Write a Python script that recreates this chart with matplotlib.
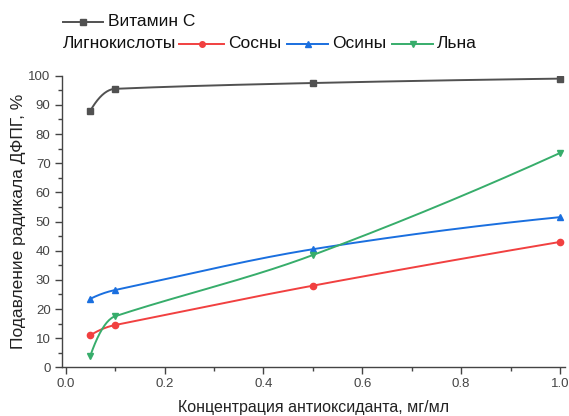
import matplotlib
import numpy as np

matplotlib.use("Agg")
import matplotlib.pyplot as plt  # noqa: E402
from matplotlib.lines import Line2D  # noqa: E402
from matplotlib.ticker import MultipleLocator  # noqa: E402

plt.rcParams["font.family"] = ["Liberation Sans", "DejaVu Sans"]

conc = [0.05, 0.1, 0.5, 1.0]
vit_c = [88.0, 95.5, 97.5, 99.0]
sosny = [11.0, 14.5, 28.0, 43.0]
osiny = [23.5, 26.5, 40.5, 51.5]
lna = [4.0, 17.5, 38.5, 73.5]

names = ["Витамин С", "Сосны", "Осины", "Льна"]
colors = ["#515151", "#F14040", "#1A6FDF", "#37AD6B"]
markers = ["s", "o", "^", "v"]


def smooth(x, y, xs):
    # cubic Hermite used only to draw the smooth connecting line (like Origin's spline)
    x = np.asarray(x, float); y = np.asarray(y, float)
    h = np.diff(x); d = np.diff(y) / h
    m = np.zeros_like(y)
    for k in range(1, len(x) - 1):
        w0, w1 = h[k - 1] ** 2, h[k] ** 2
        m[k] = (w0 * d[k - 1] + w1 * d[k]) / (w0 + w1)
    m[0] = 2 * d[0] - m[1]
    m[-1] = 2 * d[-1] - m[-2]
    i = np.clip(np.searchsorted(x, xs) - 1, 0, len(x) - 2)
    t = (xs - x[i]) / h[i]
    h00 = 2 * t**3 - 3 * t**2 + 1; h10 = t**3 - 2 * t**2 + t
    h01 = -2 * t**3 + 3 * t**2; h11 = t**3 - t**2
    return h00 * y[i] + h10 * h[i] * m[i] + h01 * y[i + 1] + h11 * h[i] * m[i + 1]


fig = plt.figure(figsize=(5.69, 4.16), dpi=100)
ax = fig.add_axes([0.1084, 0.117, 0.8845, 0.701])

xs = np.linspace(conc[0], conc[-1], 400)
for ys, c, mk in zip([vit_c, sosny, osiny, lna], colors, markers):
    ax.plot(xs, smooth(conc, ys, xs), color=c, lw=1.4, zorder=2)
    ax.plot(conc, ys, ls="none", marker=mk, ms=4.5, color=c, zorder=3)

ax.set_xlim(-0.008, 1.01)
ax.set_ylim(0, 100)
ax.xaxis.set_major_locator(MultipleLocator(0.2))
ax.xaxis.set_minor_locator(MultipleLocator(0.1))
ax.yaxis.set_major_locator(MultipleLocator(10))
ax.yaxis.set_minor_locator(MultipleLocator(5))
ax.spines[["top", "right"]].set_visible(False)
for s in ("left", "bottom"):
    ax.spines[s].set_color("#444444")
    ax.spines[s].set_linewidth(1.0)
ax.tick_params(which="major", direction="out", length=5, width=1, color="#444444",
               labelsize=9.5, labelcolor="#444444", pad=3)
ax.tick_params(which="minor", direction="out", length=3, width=1, color="#444444")
ax.xaxis.set_major_formatter(plt.FuncFormatter(lambda v, p: f"{v:.1f}"))
ax.set_xlabel("Концентрация антиоксиданта, мг/мл", fontsize=11.5, color="#222222", labelpad=7)
ax.set_ylabel("Подавление радикала ДФПГ, %", fontsize=12.5, color="#222222", labelpad=2)


# legend drawn by hand, two rows like the original
def leg_entry(x0, x1, y, c, mk):
    fig.add_artist(Line2D([x0 / 569, x1 / 569], [1 - y / 416] * 2, color=c, lw=1.4))
    fig.add_artist(Line2D([(x0 + x1) / 2 / 569], [1 - y / 416], color=c, marker=mk, ms=4))


leg_entry(63, 103, 22, colors[0], markers[0])
fig.text(108 / 569, 1 - 22 / 416, names[0], fontsize=12.5, va="center", color="#111111")
fig.text(63 / 569, 1 - 44 / 416, "Лигнокислоты", fontsize=12.5, va="center", color="#111111")
row2 = [(179, 224, 228), (287, 328, 332), (392, 433, 437)]
for (x0, x1, tx), name, c, mk in zip(row2, names[1:], colors[1:], markers[1:]):
    leg_entry(x0, x1, 44, c, mk)
    fig.text(tx / 569, 1 - 44 / 416, name, fontsize=12.5, va="center", color="#111111")

fig.savefig("out.png", dpi=100)
